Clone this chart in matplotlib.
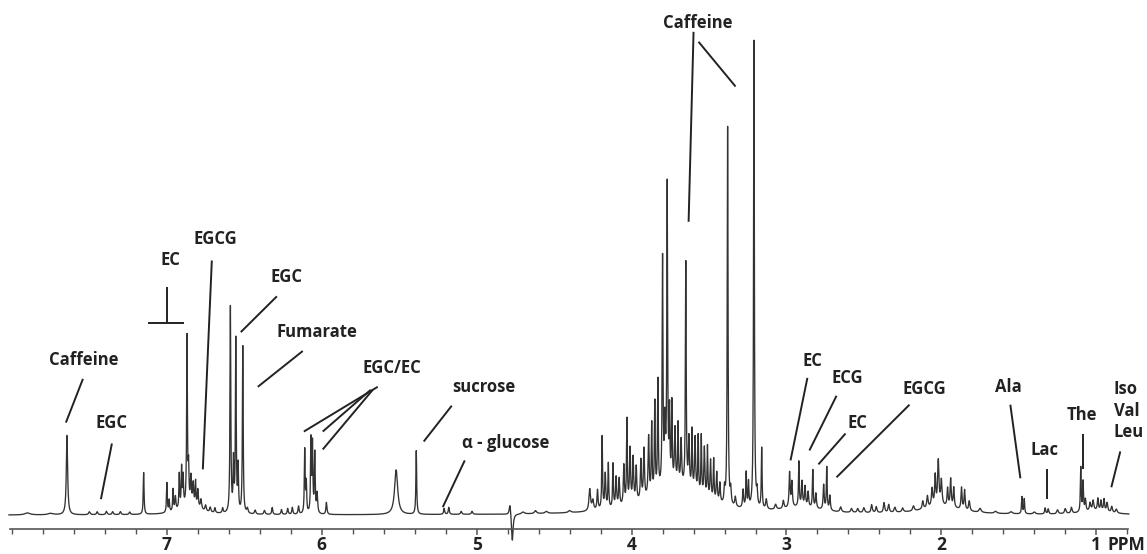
import numpy as np
import matplotlib.pyplot as plt

plt.rcParams['font.family'] = ['Open Sans', 'DejaVu Sans']

# 1H NMR spectrum of green tea extract
# each peak: (ppm, height above baseline, half width in ppm)
aromatic_peaks = [
    (7.90, 2, 0.02), (7.75, 1.5, 0.02), (7.645, 80, 0.005), (7.50, 3, 0.006),
    (7.45, 3, 0.005), (7.39, 3.5, 0.005), (7.35, 3, 0.005), (7.30, 3, 0.005),
    (7.24, 2.5, 0.005), (7.15, 42, 0.003), (7.00, 30, 0.003), (6.985, 12, 0.003),
    (6.96, 22, 0.003), (6.945, 14, 0.004), (6.92, 35, 0.003), (6.905, 40, 0.003),
    (6.895, 30, 0.003), (6.87, 170, 0.003), (6.86, 35, 0.003), (6.845, 28, 0.004),
    (6.83, 22, 0.004), (6.815, 25, 0.003), (6.80, 18, 0.004), (6.78, 10, 0.005),
    (6.75, 6, 0.005), (6.72, 5, 0.005), (6.69, 5, 0.004), (6.64, 5, 0.004),
    (6.59, 207, 0.003), (6.57, 50, 0.003), (6.555, 174, 0.003), (6.54, 45, 0.003),
    (6.51, 168, 0.003), (6.48, 5, 0.005), (6.43, 4, 0.005), (6.37, 4, 0.005),
    (6.32, 7, 0.004), (6.26, 5, 0.004), (6.22, 6, 0.004), (6.19, 7, 0.004),
    (6.15, 8, 0.004), (6.11, 64, 0.003), (6.10, 30, 0.003), (6.07, 73, 0.003),
    (6.06, 68, 0.003), (6.045, 60, 0.003), (6.03, 20, 0.004), (5.97, 12, 0.004),
]
sugar_peaks = [
    (5.52, 45, 0.012), (5.39, 64, 0.003), (5.21, 6, 0.004), (5.18, 7, 0.004),
    (5.10, 3, 0.005), (5.03, 3, 0.005),
    (4.785, 12, 0.006), (4.77, -28, 0.006),  # water residue
    (4.70, 2, 0.01), (4.62, 3, 0.008), (4.55, 2, 0.01), (4.40, 2, 0.01),
]
mid_peaks = [
    (4.27, 22, 0.006), (4.25, 10, 0.006), (4.22, 20, 0.004), (4.19, 73, 0.003),
    (4.17, 35, 0.004), (4.15, 45, 0.003), (4.12, 44, 0.003), (4.10, 30, 0.004),
    (4.08, 28, 0.004), (4.05, 40, 0.004), (4.03, 85, 0.003), (4.01, 55, 0.004),
    (3.99, 45, 0.004), (3.97, 35, 0.004), (3.94, 40, 0.004), (3.92, 50, 0.004),
    (3.89, 60, 0.004), (3.87, 70, 0.003), (3.85, 90, 0.003), (3.83, 110, 0.003),
    (3.80, 229, 0.003), (3.785, 60, 0.004), (3.77, 300, 0.003), (3.755, 70, 0.003),
    (3.74, 80, 0.003), (3.72, 55, 0.004), (3.70, 60, 0.003), (3.68, 45, 0.004),
    (3.65, 226, 0.003), (3.63, 50, 0.004), (3.61, 60, 0.003), (3.59, 55, 0.004),
    (3.57, 58, 0.003), (3.55, 60, 0.003), (3.53, 50, 0.004), (3.51, 52, 0.003),
    (3.49, 40, 0.004), (3.47, 42, 0.003), (3.45, 30, 0.004), (3.43, 20, 0.004),
    (3.40, 15, 0.004), (3.38, 381, 0.003), (3.36, 15, 0.004), (3.33, 10, 0.005),
    (3.28, 18, 0.004), (3.26, 35, 0.003), (3.245, 25, 0.003), (3.21, 471, 0.003),
    (3.19, 15, 0.004), (3.16, 61, 0.003), (3.13, 10, 0.005), (3.07, 5, 0.006),
]
aliphatic_peaks = [
    (3.02, 8, 0.005), (2.98, 35, 0.004), (2.965, 25, 0.004), (2.92, 45, 0.003),
    (2.90, 25, 0.004), (2.88, 20, 0.004), (2.86, 15, 0.004), (2.83, 38, 0.003),
    (2.81, 15, 0.004), (2.76, 25, 0.004), (2.74, 43, 0.003), (2.72, 15, 0.004),
    (2.65, 5, 0.006), (2.58, 4, 0.006), (2.54, 4, 0.006), (2.50, 5, 0.006),
    (2.45, 8, 0.005), (2.42, 6, 0.005), (2.37, 10, 0.005), (2.34, 8, 0.005),
    (2.30, 5, 0.006), (2.25, 4, 0.006), (2.18, 5, 0.006), (2.12, 8, 0.005),
    (2.09, 12, 0.005), (2.06, 18, 0.005), (2.04, 30, 0.004), (2.02, 45, 0.005),
    (2.00, 25, 0.005), (1.96, 18, 0.004), (1.94, 28, 0.004), (1.92, 20, 0.004),
    (1.87, 22, 0.004), (1.85, 20, 0.004), (1.82, 10, 0.005), (1.75, 4, 0.008),
    (1.65, 2, 0.01), (1.55, 2, 0.01), (1.48, 17, 0.003), (1.465, 15, 0.003),
    (1.40, 2, 0.008), (1.33, 6, 0.004), (1.31, 5, 0.004), (1.25, 4, 0.006),
    (1.20, 5, 0.006), (1.16, 6, 0.005), (1.10, 45, 0.003), (1.085, 30, 0.003),
    (1.07, 12, 0.004), (1.04, 8, 0.005), (1.02, 10, 0.005), (0.99, 12, 0.004),
    (0.97, 10, 0.004), (0.95, 12, 0.004), (0.93, 9, 0.005), (0.90, 6, 0.005),
    (0.87, 4, 0.006),
]
# broad humps under the crowded regions
baseline_humps = [(3.72, 28, 0.2), (2.9, 6, 0.15), (2.0, 8, 0.15), (1.0, 4, 0.1), (6.85, 8, 0.08)]

tick_ppm = [7, 6, 5, 4, 3, 2, 1]

# assignments: text, ppm, height
label_text = ["Caffeine", "EGC", "EC", "EGCG", "EGC", "Fumarate", "EGC/EC", "sucrose",
              "α - glucose", "Caffeine", "EC", "ECG", "EC", "EGCG", "Ala", "Lac", "The"]
label_ppm = [7.539, 7.358, 6.977, 6.684, 6.229, 6.029, 5.548, 4.952,
             4.813, 3.571, 2.832, 2.610, 2.542, 2.110, 1.568, 1.332, 1.090]
label_h = [156, 93, 257, 278, 239, 184, 148, 129,
           72, 495, 155, 138, 93, 127, 129, 65, 101]

# leader lines: (ppm1, h1, ppm2, h2)
leaders = [
    (7.542, 137, 7.652, 93), (7.355, 72, 7.426, 16),
    (7.0, 229, 7.0, 193), (7.123, 193, 6.890, 193),          # EC bracket
    (6.710, 256, 6.768, 46), (6.290, 220, 6.523, 184), (6.123, 165, 6.413, 129),
    (5.639, 129, 6.116, 84), (5.684, 126, 5.994, 84), (5.671, 126, 5.994, 66),
    (5.161, 110, 5.342, 74), (5.077, 55, 5.219, 8),
    (3.600, 486, 3.632, 295), (3.568, 476, 3.329, 431),
    (2.865, 138, 2.974, 55), (2.677, 120, 2.852, 65), (2.619, 82, 2.794, 51),
    (2.206, 111, 2.677, 38), (1.555, 111, 1.490, 37), (1.316, 46, 1.316, 16),
    (1.084, 82, 1.084, 46), (0.845, 64, 0.903, 28),
]

ppm = np.arange(0.79, 8.02, 0.0004)
intensity = np.zeros_like(ppm)
for group in (aromatic_peaks, sugar_peaks, mid_peaks, aliphatic_peaks, baseline_humps):
    for c, h, w in group:
        intensity += h * w**2 / ((ppm - c)**2 + w**2)

fig = plt.figure(figsize=(11.47, 5.54), dpi=100)
ax = fig.add_axes([10.45 / 1147, 25 / 554, 1117.6 / 1147, 529 / 554])
ax.plot(ppm, intensity, color='#333333', lw=0.95, clip_on=False)
ax.set_xlim(8.01, 0.795)
ax.set_ylim(-14, 518)

for s in ('top', 'left', 'right'):
    ax.spines[s].set_visible(False)
ax.spines['bottom'].set_color('#555555')
ax.spines['bottom'].set_linewidth(1.2)
ax.set_yticks([])
ax.set_xticks(tick_ppm)
ax.set_xticklabels([str(t) for t in tick_ppm], fontsize=12.5, fontweight='bold', color='#222222')
ax.set_xticks(np.round(np.arange(0.8, 8.01, 0.2), 1), minor=True)
ax.tick_params(axis='x', which='major', length=4.5, width=1.1, color='#555555', pad=0.5)
ax.tick_params(axis='x', which='minor', length=3.5, width=1.0, color='#555555')
ax.text(0.925, -0.03, "PPM", transform=ax.get_xaxis_transform(), ha='left', va='center',
        fontsize=12.5, fontweight='bold', color='#222222')

for t, p, h in zip(label_text, label_ppm, label_h):
    ax.text(p, h, t, ha='center', va='center', fontsize=12, fontweight='bold', color='#222222')
ax.text(0.888, 105, "Iso\nVal\nLeu", ha='left', va='center', fontsize=12,
        fontweight='bold', color='#222222', linespacing=1.25)

for p1, h1, p2, h2 in leaders:
    ax.plot([p1, p2], [h1, h2], color='#222222', lw=1.4, solid_capstyle='butt', clip_on=False)

fig.savefig("out.png", dpi=100)
